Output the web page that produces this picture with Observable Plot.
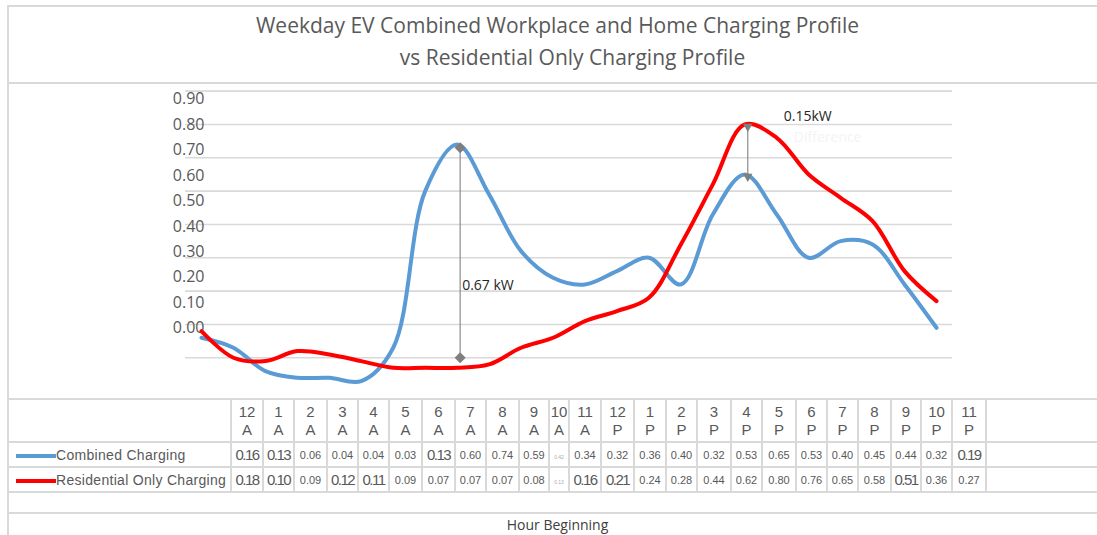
<!DOCTYPE html>
<html><head><meta charset="utf-8">
<script src="https://cdn.jsdelivr.net/npm/d3@7"></script>
<script src="https://cdn.jsdelivr.net/npm/@observablehq/plot@0.6"></script>
<style>
body{margin:0;background:#fff;}
#wrap{position:relative;width:1097px;height:535px;overflow:hidden;font-family:"Open Sans",sans-serif;background:#fff;}
.hl{position:absolute;background:#d9d9d9;}
#title{position:absolute;left:8px;top:9px;width:1099px;text-align:center;color:#595959;font-size:21px;line-height:32px;}
#chart{position:absolute;left:0;top:84px;}
#tbl{position:absolute;left:8px;top:398px;border-collapse:separate;border-spacing:0;table-layout:fixed;border-top:2px solid #d9d9d9;font-family:"Liberation Sans",Arial,sans-serif;color:#595959;}
#tbl td{padding:0;border-right:2px solid #d9d9d9;border-bottom:2px solid #d9d9d9;box-sizing:border-box;text-align:center;overflow:visible;white-space:nowrap;}
#tbl tr.hdr td{height:43px;vertical-align:top;font-size:15px;line-height:18px;padding-top:3px;}
#tbl tr.val td{height:25px;vertical-align:middle;font-size:11px;}
#tbl tr.blank td{height:21px;border-right:none;}
#tbl tr td.leg{text-align:left;font-size:14px;color:#595959;letter-spacing:0.3px;}
#tbl td.last{border-right:none;}
.sw{display:inline-block;width:40px;height:4px;vertical-align:middle;margin-left:8px;}
.big{font-size:15px;letter-spacing:-1.5px;}
.tiny{font-size:5px;color:#aaa;}
#xlab{position:absolute;left:8px;width:1099px;top:515px;text-align:center;font-size:14px;color:#404040;}
</style>
</head><body>
<div id="wrap">
  <div class="hl" style="left:7px;top:6px;width:2px;height:529px"></div>
  <div class="hl" style="left:7px;top:5px;width:1090px;height:2px"></div>
  <div class="hl" style="left:8px;top:82px;width:1089px;height:2px"></div>
  <div id="title"><div>Weekday EV Combined Workplace and Home Charging Profile</div><div style="padding-left:30px">vs Residential Only Charging Profile</div></div>
  <div id="chart"></div>
  <table id="tbl"></table>
  <div id="xlab">Hour Beginning</div>
</div>
<script>
// ---- data ----
const hourNums = ["12","1","2","3","4","5","6","7","8","9","10","11","12","1","2","3","4","5","6","7","8","9","10","11"];
const hourAmPm = ["A","A","A","A","A","A","A","A","A","A","A","A","P","P","P","P","P","P","P","P","P","P","P","P"];
const combined = [0.16,0.13,0.06,0.04,0.04,0.03,0.13,0.60,0.74,0.59,0.42,0.34,0.32,0.36,0.40,0.32,0.53,0.65,0.53,0.40,0.45,0.44,0.32,0.19];
const residential = [0.18,0.10,0.09,0.12,0.11,0.09,0.07,0.07,0.07,0.08,0.13,0.16,0.21,0.24,0.28,0.44,0.62,0.80,0.76,0.65,0.58,0.51,0.36,0.27];
const seriesNames = ["Combined Charging","Residential Only Charging"];
const yTickValues = [0,0.1,0.2,0.3,0.4,0.5,0.6,0.7,0.8,0.9];
const gridValues = [0.1,0.2,0.3,0.4,0.5,0.6,0.7,0.8,0.9];
const annHours = ["8 A","5 P"];
const annFrom = [0.10,0.80];
const annTo = [0.73,0.65];
const annLabels = ["0.67 kW","0.15kW"];
const annNote = "Difference";

// ---- styles (kept apart from data) ----
const colors = ["#5b9bd5","#ff0000"];
const bigCells = [[0,1,6,23],[0,1,3,4,11,12,21]];
const tinyCells = [[10],[10]];
const colWidths = [224,32,31,33,31,31,33,33,31,33,30,20,32,33,32,31,34,31,34,31,31,33,30,31,34,110];

const hours = hourNums.map((n,i)=>n+" "+hourAmPm[i]);
const rows = [];
[combined,residential].forEach((arr,s)=>arr.forEach((v,i)=>rows.push({series:seriesNames[s],hour:hours[i],value:v})));
const anns = annHours.map((h,i)=>({hour:h,from:annFrom[i],to:annTo[i],label:annLabels[i]}));
const labelPos = v => 0.1885 + 0.7638*v;

const chart = Plot.plot({
  width:1097, height:315,
  marginLeft:185, marginRight:145, marginTop:6.6, marginBottom:8.4,
  style:{fontFamily:"'Open Sans',sans-serif", background:"transparent", overflow:"visible"},
  x:{type:"point", domain:hours, padding:0.5, round:false, axis:null},
  y:{domain:[0,0.9], axis:null},
  marks:[
    Plot.ruleY(gridValues,{stroke:"#d9d9d9",strokeWidth:1.6}),
    Plot.text(yTickValues,{x:()=>hours[0], y:labelPos, text:d=>d.toFixed(2), textAnchor:"end", dx:3, fontSize:16, fill:"#595959"}),
    Plot.line(rows.filter(d=>d.series===seriesNames[0]),{x:"hour",y:"value",stroke:colors[0],strokeWidth:4,curve:"catmull-rom"}),
    Plot.line(rows.filter(d=>d.series===seriesNames[1]),{x:"hour",y:"value",stroke:colors[1],strokeWidth:4,curve:"catmull-rom"}),
    Plot.ruleX(anns,{x:"hour",y1:"from",y2:"to",dx:3,stroke:"#8c8c8c",strokeWidth:1.2}),
    Plot.dot([anns[0]],{x:"hour",y:"from",dx:3,symbol:"diamond2",r:5,fill:"#7f7f7f",stroke:null}),
    Plot.dot([anns[0]],{x:"hour",y:"to",dx:3,symbol:"diamond2",r:5,fill:"#7f7f7f",stroke:null}),
    Plot.dot([anns[1]],{x:"hour",y:"from",dx:3,symbol:"triangle",r:3.5,rotate:180,dy:2,fill:"#7f7f7f",stroke:null}),
    Plot.dot([anns[1]],{x:"hour",y:"to",dx:3,symbol:"triangle",r:3.5,rotate:180,dy:2,fill:"#7f7f7f",stroke:null}),
    Plot.text([anns[0]],{x:"hour",y:0.3,text:"label",textAnchor:"start",dx:5,dy:-6,fontSize:14,fill:"#262626"}),
    Plot.text([anns[1]],{x:"hour",y:"from",text:"label",textAnchor:"start",dx:39,dy:-8,fontSize:14,fill:"#262626"}),
    Plot.text([anns[1]],{x:"hour",y:"from",text:()=>annNote,textAnchor:"start",dx:49,dy:13,fontSize:14,fill:"#f4f4f4"})
  ]
});
document.getElementById("chart").appendChild(chart);

// ---- data table ----
const tbl = document.getElementById("tbl");
let html = "<colgroup>"+colWidths.map(w=>`<col style="width:${w}px">`).join("")+"</colgroup>";
html += `<tr class="hdr"><td class="leg"></td>`+hours.map((h,i)=>`<td><div>${hourNums[i]}</div><div>${hourAmPm[i]}</div></td>`).join("")+`<td class="last"></td></tr>`;
[combined,residential].forEach((arr,s)=>{
  html += `<tr class="val"><td class="leg"><span class="sw" style="background:${colors[s]}"></span>${seriesNames[s]}</td>`;
  html += arr.map((v,i)=>{
    const cls = bigCells[s].includes(i) ? "big" : (tinyCells[s].includes(i) ? "tiny" : "");
    return `<td><span class="${cls}">${v.toFixed(2)}</span></td>`;
  }).join("");
  html += `<td class="last"></td></tr>`;
});
html += `<tr class="blank"><td colspan="26"></td></tr>`;
tbl.innerHTML = html;
</script>
</body></html>
